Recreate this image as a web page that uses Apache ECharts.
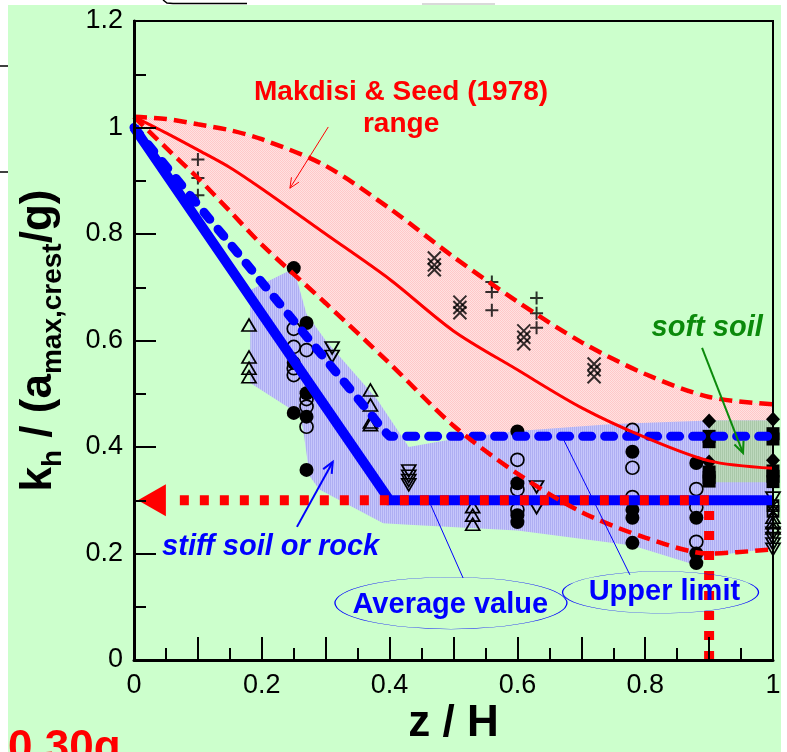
<!DOCTYPE html>
<html>
<head>
<meta charset="utf-8">
<script src="https://cdn.jsdelivr.net/npm/echarts@6/dist/echarts.min.js"></script>
<style>
  html, body { margin: 0; padding: 0; background: #fff; width: 787px; height: 752px; overflow: hidden; }
  #paper { position: absolute; left: 8px; top: 5px; width: 773px; height: 747px; background: #CCFFCC; }
  #chart { position: absolute; left: 0; top: 0; width: 787px; height: 752px; }
</style>
</head>
<body>
<div id="paper"></div>
<div id="chart"></div>
<script>
// ---- data ---------------------------------------------------------------
const xTickLabels = ['0', '0.2', '0.4', '0.6', '0.8', '1'];
const yTickLabels = ['0', '0.2', '0.4', '0.6', '0.8', '1', '1.2'];

// Makdisi & Seed (1978) range: upper bound, mean curve, lower bound
const curveX        = [0, 0.05, 0.1, 0.15, 0.2, 0.3, 0.4, 0.5, 0.6, 0.7, 0.8, 0.9, 1.0];
const makdisiUpper  = [1.02, 1.016, 1.006, 0.995, 0.978, 0.928, 0.848, 0.757, 0.673, 0.597, 0.537, 0.494, 0.48];
const makdisiMean   = [1.02, 0.99, 0.958, 0.925, 0.885, 0.80, 0.715, 0.618, 0.545, 0.474, 0.418, 0.374, 0.36];
const makdisiLower  = [1.02, 0.962, 0.905, 0.843, 0.78, 0.67, 0.557, 0.44, 0.35, 0.278, 0.23, 0.2, 0.208];

// proposed design lines
const averageLine    = [[0, 1.0], [0.4, 0.3], [1.0, 0.3]];
const upperLimitLine = [[0, 1.0], [0.375, 0.455], [0.39, 0.432], [0.4, 0.42], [1.0, 0.42]];
const designLevel    = [[0.9, 0], [0.9, 0.3], [0.064, 0.3]];
const designArrowTip = [[0.028, 0.3]];

// envelope of the computed values and the soft-soil zone
const measuredBand = [
  [0.25, 0.735], [0.27, 0.65], [0.3, 0.6], [0.38, 0.49], [0.43, 0.40], [0.5, 0.415],
  [0.6, 0.43], [0.75, 0.443], [0.9, 0.45], [1.0, 0.45], [1.0, 0.21], [0.9, 0.195],
  [0.875, 0.18], [0.78, 0.215], [0.6, 0.243], [0.43, 0.254], [0.39, 0.257],
  [0.29, 0.32], [0.275, 0.345], [0.265, 0.43], [0.26, 0.46], [0.182, 0.52], [0.182, 0.695]
];
const softSoilBand = [[0.9, 0.334], [1.0, 0.45]];

// individual results
const plusPts = [[0.1, 0.94], [0.1, 0.905], [0.1, 0.873], [0.56, 0.71], [0.56, 0.691], [0.56, 0.657],
  [0.63, 0.68], [0.63, 0.651], [0.63, 0.624]];
const crossPts = [[0.47, 0.755], [0.47, 0.742], [0.47, 0.733], [0.51, 0.672], [0.51, 0.662], [0.51, 0.652],
  [0.61, 0.618], [0.61, 0.606], [0.61, 0.594], [0.72, 0.556], [0.72, 0.545], [0.72, 0.532]];
const solidDotPts = [[0.25, 0.736], [0.25, 0.558], [0.25, 0.464], [0.27, 0.633], [0.27, 0.501], [0.27, 0.457],
  [0.27, 0.357], [0.6, 0.429], [0.6, 0.332], [0.6, 0.272], [0.6, 0.259], [0.78, 0.391], [0.78, 0.282],
  [0.78, 0.267], [0.78, 0.22], [0.88, 0.37], [0.88, 0.267], [0.88, 0.2], [0.88, 0.182]];
const openDotPts = [[0.25, 0.622], [0.25, 0.588], [0.25, 0.548], [0.25, 0.535], [0.27, 0.582], [0.27, 0.49],
  [0.27, 0.476], [0.27, 0.438], [0.6, 0.376], [0.6, 0.32], [0.6, 0.282], [0.78, 0.432], [0.78, 0.361],
  [0.78, 0.306], [0.88, 0.321], [0.88, 0.287], [0.88, 0.222]];
const triUpPts = [[0.18, 0.629], [0.18, 0.569], [0.18, 0.548], [0.18, 0.532], [0.37, 0.507], [0.37, 0.479],
  [0.37, 0.447], [0.37, 0.442], [0.53, 0.288], [0.53, 0.272], [0.53, 0.255], [1.0, 0.268], [1.0, 0.258], [1.0, 0.248]];
const triDownPts = [[0.31, 0.586], [0.31, 0.57], [0.43, 0.355], [0.43, 0.345], [0.43, 0.337], [0.43, 0.329],
  [0.63, 0.325], [0.63, 0.286], [1.0, 0.304], [1.0, 0.238], [1.0, 0.228], [1.0, 0.218], [1.0, 0.208]];
const squarePts = [[0.9, 0.42], [0.9, 0.41], [0.9, 0.353], [0.9, 0.343], [0.9, 0.336],
  [1.0, 0.425], [1.0, 0.415], [1.0, 0.355], [1.0, 0.345], [1.0, 0.335]];
const diamondPts = [[0.9, 0.449], [0.9, 0.372], [1.0, 0.452], [1.0, 0.375]];
const boxPts = [[1.0, 0.29], [1.0, 0.279]];

// ---- styling helpers ------------------------------------------------------
const FONT = '"Liberation Sans", Arial, Helvetica, sans-serif';
const PAPER = '#CCFFCC';

function makePattern(w, h, cells) {
  const c = document.createElement('canvas');
  c.width = w; c.height = h;
  const g = c.getContext('2d');
  cells.forEach(([x, y, col]) => { g.fillStyle = col; g.fillRect(x, y, 1, 1); });
  return { image: c, repeat: 'repeat' };
}
const pinkFill = makePattern(2, 2, [[0, 0, '#FFC8C8'], [1, 0, '#FFE2E2'], [0, 1, '#FFE2E2'], [1, 1, '#FFC8C8']]);
const blueFill = makePattern(2, 1, [[0, 0, '#AEAEF2'], [1, 0, '#C6C6FB']]);
const softFill = makePattern(2, 1, [[0, 0, '#A9C8A9'], [1, 0, '#BDD9BD']]);

const pair = (xs, ys) => xs.map((x, i) => [x, ys[i]]);
const tickText = (list) => (v) => list.find(t => Math.abs(parseFloat(t) - v) < 1e-6) || '';

function markerSeries(data, symbol, size, filled, extra) {
  return Object.assign({
    type: 'scatter', data, symbol, symbolSize: size, z: 2, silent: true,
    itemStyle: {
      color: filled ? '#000' : 'rgba(0,0,0,0)',
      borderColor: '#000', borderWidth: filled ? 0 : 1.7, opacity: 1
    }
  }, extra || {});
}

const chart = echarts.init(document.getElementById('chart'), null, { renderer: 'canvas' });

chart.setOption({
  animation: false,
  backgroundColor: 'transparent',
  grid: {
    left: 134, right: 14, top: 21, bottom: 92, z: 10,
    show: true, borderColor: '#000', borderWidth: 2, backgroundColor: 'transparent',
    containLabel: false, outerBoundsMode: 'none'
  },
  xAxis: {
    type: 'value', min: 0, max: 1, interval: 0.1, z: 10,
    name: 'z / H', nameLocation: 'middle', nameGap: 42, nameMoveOverlap: false,
    nameTextStyle: { fontSize: 44, fontWeight: 'bold', fontFamily: FONT, color: '#000' },
    axisLine: { onZero: false, lineStyle: { color: '#000', width: 3 } },
    axisTick: { inside: true, length: 23, lineStyle: { color: '#000', width: 2 } },
    minorTick: { show: true, splitNumber: 2, length: 12, lineStyle: { color: '#000', width: 2 } },
    splitLine: { show: false }, minorSplitLine: { show: false },
    axisLabel: { margin: 12, fontSize: 27, fontFamily: FONT, color: '#000', formatter: tickText(xTickLabels), hideOverlap: false }
  },
  yAxis: {
    type: 'value', min: 0, max: 1.2, interval: 0.2, z: 10,
    name: '{m|k}{s|h}{m| / (a}{s|max,crest}{m|/g)}',
    nameLocation: 'middle', nameRotate: 90, nameGap: 45, nameMoveOverlap: false,
    nameTextStyle: {
      rich: {
        m: { fontSize: 44, fontWeight: 'bold', fontFamily: FONT, color: '#000', lineHeight: 44, verticalAlign: 'top' },
        s: { fontSize: 28, fontWeight: 'bold', fontFamily: FONT, color: '#000', lineHeight: 72, verticalAlign: 'middle' }
      }
    },
    axisLine: { onZero: false, lineStyle: { color: '#000', width: 3 } },
    axisTick: { inside: true, length: 22, lineStyle: { color: '#000', width: 2 } },
    minorTick: { show: true, splitNumber: 2, length: 12, lineStyle: { color: '#000', width: 2 } },
    splitLine: { show: false }, minorSplitLine: { show: false },
    axisLabel: { margin: 11, fontSize: 27, fontFamily: FONT, color: '#000', formatter: tickText(yTickLabels), hideOverlap: false }
  },
  series: [
    // Makdisi & Seed range: pink under the upper bound, paper colour under the lower bound
    { type: 'line', data: pair(curveX, makdisiUpper), smooth: 0.3, symbol: 'none',
      lineStyle: { opacity: 0 }, areaStyle: { color: pinkFill, opacity: 1, origin: 'start' }, z: 1, silent: true },
    { type: 'line', data: pair(curveX, makdisiLower), smooth: 0.3, symbol: 'none',
      lineStyle: { opacity: 0 }, areaStyle: { color: PAPER, opacity: 1, origin: 'start' }, z: 1, silent: true },
    // envelope of computed values
    { type: 'custom', z: 1, silent: true, data: [[0, 0]],
      renderItem: (params, api) => ({
        type: 'polygon',
        shape: { points: measuredBand.map(p => api.coord(p)) },
        style: { fill: blueFill }
      }) },
    // soft soil zone
    { type: 'custom', z: 1, silent: true, data: [[0, 0]],
      renderItem: (params, api) => {
        const a = api.coord(softSoilBand[0]), b = api.coord(softSoilBand[1]);
        return { type: 'rect', shape: { x: a[0], y: b[1], width: b[0] - a[0], height: a[1] - b[1] }, style: { fill: softFill } };
      } },

    // individual results
    markerSeries(openDotPts, 'circle', 13, false),
    markerSeries(solidDotPts, 'circle', 14, true),
    markerSeries(triUpPts, 'triangle', [14, 12], false),
    markerSeries(triDownPts, 'triangle', [14, 12], false, { symbolRotate: 180 }),
    markerSeries(squarePts, 'rect', 13, true),
    markerSeries(diamondPts, 'diamond', [14, 15], true),
    markerSeries(boxPts, 'path://M0,0H10V10H0ZM0,0L10,10M10,0L0,10', 11, false),
    Object.assign(markerSeries(plusPts, 'path://M0,5H10M5,0V10', 13, false), {
      itemStyle: { color: 'rgba(0,0,0,0)', borderColor: '#000', borderWidth: 2 } }),
    Object.assign(markerSeries(crossPts, 'path://M0,0L10,10M10,0L0,10', 13, false), {
      itemStyle: { color: 'rgba(0,0,0,0)', borderColor: '#000', borderWidth: 2 } }),

    // design lines
    { type: 'line', data: upperLimitLine, symbol: 'none', z: 3, silent: true,
      lineStyle: { color: '#0000FF', width: 9, type: [9, 13], cap: 'round', join: 'round' } },
    { type: 'line', data: averageLine, symbol: 'none', z: 3, silent: true,
      lineStyle: { color: '#0000FF', width: 10, cap: 'butt', join: 'miter' } },

    // Makdisi & Seed curves
    { type: 'line', data: pair(curveX, makdisiUpper), smooth: 0.3, symbol: 'none', z: 4, silent: true,
      lineStyle: { color: '#FF0000', width: 4.5, type: [13, 7] } },
    { type: 'line', data: pair(curveX, makdisiLower), smooth: 0.3, symbol: 'none', z: 4, silent: true,
      lineStyle: { color: '#FF0000', width: 4.5, type: [13, 7] } },
    { type: 'line', data: pair(curveX, makdisiMean), smooth: 0.3, symbol: 'none', z: 4, silent: true,
      lineStyle: { color: '#FF0000', width: 3 } },

    // design seismic coefficient level
    { type: 'line', data: designLevel, symbol: 'none', z: 5, silent: true,
      lineStyle: { color: '#FF0000', width: 10, type: [9, 11], cap: 'butt' } },
    { type: 'scatter', data: designArrowTip, symbol: 'triangle', symbolSize: [32, 28], symbolRotate: 90,
      z: 5, silent: true, itemStyle: { color: '#FF0000', opacity: 1 } }
  ]
});

// ---- annotations ------------------------------------------------------------
const px = p => chart.convertToPixel({ gridIndex: 0 }, p);
const TOP = 100;

function arrow(a, b, color, width, head) {
  const [x1, y1] = px(a), [x2, y2] = px(b);
  const ang = Math.atan2(y2 - y1, x2 - x1);
  const s = 0.42;
  const h1 = [x2 - head * Math.cos(ang - s), y2 - head * Math.sin(ang - s)];
  const h2 = [x2 - head * Math.cos(ang + s), y2 - head * Math.sin(ang + s)];
  return [
    { type: 'line', z: TOP, shape: { x1, y1, x2, y2 }, style: { stroke: color, lineWidth: width } },
    { type: 'polyline', z: TOP, shape: { points: [h1, [x2, y2], h2] }, style: { stroke: color, lineWidth: width, fill: null } }
  ];
}
function leader(a, b, color, width) {
  const [x1, y1] = px(a), [x2, y2] = px(b);
  return { type: 'line', z: TOP, shape: { x1, y1, x2, y2 }, style: { stroke: color, lineWidth: width } };
}
function ellipse(c, rx, ry, color) {
  const [x, y] = px(c);
  return { type: 'circle', z: TOP, x, y, scaleY: ry / rx, shape: { cx: 0, cy: 0, r: rx },
    style: { fill: null, stroke: color, lineWidth: 1.3, strokeNoScale: true } };
}
function label(c, text, color, size, opts) {
  const [x, y] = px(c);
  return { type: 'text', x, y, z: TOP + 1, style: Object.assign({
    text, fill: color, fontSize: size, fontWeight: 'bold', fontFamily: FONT,
    align: 'center', verticalAlign: 'middle' }, opts || {}) };
}

const elements = [].concat(
  [label([0.418, 1.037], 'Makdisi & Seed (1978)\nrange', '#FF0000', 28, { lineHeight: 32 })],
  arrow([0.304, 1.001], [0.244, 0.886], '#FF0000', 1, 11),
  [label([0.044, 0.213], 'stiff soil or rock', '#0000FF', 29, { align: 'left', fontStyle: 'italic' })],
  arrow([0.255, 0.25], [0.311, 0.372], '#0000FF', 2, 12),
  [label([0.897, 0.623], 'soft soil', '#0B8A0B', 29, { fontStyle: 'italic' })],
  arrow([0.889, 0.586], [0.953, 0.389], '#0B8A0B', 2, 12),
  [leader([0.463, 0.295], [0.515, 0.154], '#0000FF', 1)],
  [leader([0.671, 0.417], [0.776, 0.16], '#0000FF', 1)],
  [ellipse([0.496, 0.107], 116, 26, '#0000FF'), label([0.495, 0.103], 'Average value', '#0000FF', 29)],
  [ellipse([0.824, 0.127], 98, 21, '#0000FF'), label([0.83, 0.128], 'Upper limit', '#0000FF', 29)],
  [
    // page furniture around the plot
    { type: 'line', z: TOP, shape: { x1: 0, y1: 66, x2: 8, y2: 66 }, style: { stroke: '#000', lineWidth: 1.5 } },
    { type: 'line', z: TOP, shape: { x1: 0, y1: 172, x2: 8, y2: 172 }, style: { stroke: '#000', lineWidth: 1.5 } },
    { type: 'polyline', z: TOP, shape: { points: [[163, 0], [167, 3], [173, 3.5], [247, 3.5]] }, style: { stroke: '#000', lineWidth: 1.5, fill: null } },
    { type: 'line', z: TOP, shape: { x1: 422, y1: 4, x2: 495, y2: 4 }, style: { stroke: '#CCCCCC', lineWidth: 1.5 } },
    { type: 'text', z: TOP, x: 8, y: 727, style: { text: '0.30g', fill: '#FF0000', fontSize: 44, fontWeight: 'bold', fontFamily: FONT, align: 'left', verticalAlign: 'top' } }
  ]
);

chart.setOption({ graphic: { z: TOP, elements } });
</script>
</body>
</html>
